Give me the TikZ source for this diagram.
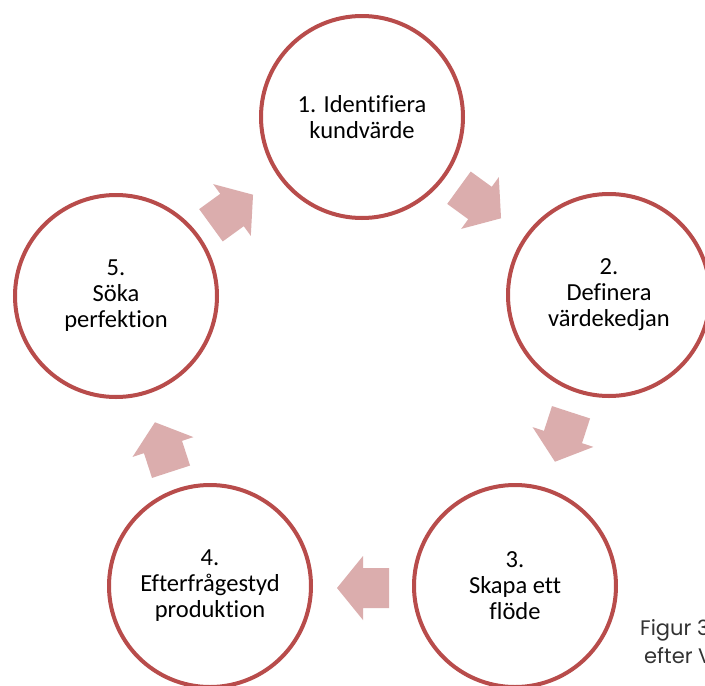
\documentclass[tikz,border=0pt]{standalone}
\usepackage{fontspec}
\setmainfont{Carlito}[Ligatures={NoCommon,NoRare}]
\newfontfamily\figfont{Poppins}
\definecolor{ringred}{HTML}{B84C4B}
\definecolor{arrowpink}{HTML}{DBADAD}
\definecolor{figgray}{HTML}{333333}
\tikzset{
  stepcirc/.style={circle, draw=ringred, line width=4pt, fill=white,
    minimum size=202pt, inner sep=0pt, align=center,
    font=\fontsize{24.5}{26}\selectfont, text=black},
  blockarrow/.pic={
    \fill[arrowpink] (-26,-20) -- (0,-20) -- (0,-32) -- (26,0) -- (0,32) -- (0,20) -- (-26,20) -- cycle;
  },
  figtext/.style={anchor=base west, inner sep=0pt, text=figgray,
    font=\figfont\fontsize{21}{28}\selectfont}
}
\begin{document}
\begin{tikzpicture}[x=1pt,y=-1pt]
\useasboundingbox (0,0) rectangle (705,686);
\clip (0,0) rectangle (705,686);
\fill[white] (0,0) rectangle (705,686);

\node[stepcirc] (c1) at (362,117) {1. Identifiera\\kundvärde};
\node[stepcirc] (c2) at (609,295) {2.\\Definera\\värdekedjan};
\node[stepcirc] (c3) at (515,586) {3.\\Skapa ett\\flöde};
\node[stepcirc] (c4) at (210,586) {4.\\Efterfrågestyd\\produktion};
\node[stepcirc] (c5) at (116,296) {5.\\Söka\\perfektion};

\pic[rotate=-36] at (480,203) {blockarrow};
\pic[rotate=-108] at (563,437) {blockarrow};
\pic[rotate=180] at (363,588) {blockarrow};
\pic[rotate=108] at (163,447) {blockarrow};
\pic[rotate=36] at (232,210) {blockarrow};

\node[figtext] (fig1) at (640,635) {Figur 3};
\node[figtext] (fig2) at (644,663) {efter V};
\end{tikzpicture}
\end{document}
